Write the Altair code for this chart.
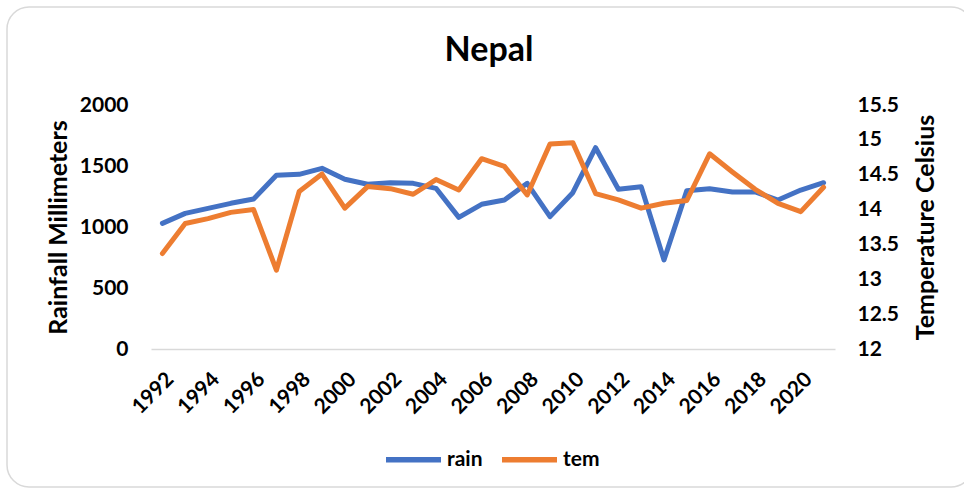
import altair as alt
import pandas as pd

# Annual rainfall (mm) and mean temperature (°C) for Nepal
years = list(range(1992, 2022))
rain = [1030, 1112, 1153, 1194, 1229, 1424, 1432, 1481, 1391, 1350,
        1363, 1358, 1317, 1079, 1186, 1221, 1358, 1085, 1281, 1650,
        1309, 1330, 730, 1298, 1314, 1287, 1287, 1221, 1303, 1363]
tem = [13.37, 13.80, 13.87, 13.96, 14.00, 13.13, 14.26, 14.51, 14.02, 14.33,
       14.30, 14.22, 14.43, 14.28, 14.73, 14.62, 14.21, 14.94, 14.96, 14.23,
       14.14, 14.02, 14.09, 14.13, 14.80, 14.54, 14.29, 14.09, 13.97, 14.32]
series_names = ["rain", "tem"]
series_colors = ["#4472C4", "#ED7D31"]
rain_ticks = [0, 500, 1000, 1500, 2000]
tem_ticks = [12, 12.5, 13, 13.5, 14, 14.5, 15, 15.5]
label_years = [y for y in years if y % 2 == 0]
chart_title = "Nepal"

df = pd.DataFrame(
    {"year": years * 2,
     "series": ["rain"] * len(years) + ["tem"] * len(years),
     "value": rain + tem}
)

FONT = "Lato"

color = alt.Color(
    "series:N",
    scale=alt.Scale(domain=series_names, range=series_colors),
    legend=alt.Legend(
        title=None, orient="none", direction="horizontal",
        legendX=232, legendY=324,
        symbolType="stroke", symbolSize=3025, symbolStrokeWidth=5.5,
        labelFont=FONT, labelFontSize=21, labelFontWeight="bold",
        labelColor="#000000", labelOffset=3, columnPadding=8,
    ),
)

x_enc = alt.X(
    "year:O",
    scale=alt.Scale(type="point", padding=0.5),
    axis=alt.Axis(
        title=None, values=label_years, labelAngle=-45,
        labelAlign="right", labelBaseline="top", labelPadding=19,
        labelFont=FONT, labelFontSize=21, labelFontWeight="bold",
        labelColor="#000000", ticks=False, domainColor="#D9D9D9",
        domainWidth=1.5, grid=False,
    ),
)

base = alt.Chart(df)

rain_line = base.transform_filter(alt.datum.series == "rain").mark_line(
    strokeWidth=5, strokeCap="round", strokeJoin="round"
).encode(
    x=x_enc,
    y=alt.Y(
        "value:Q",
        scale=alt.Scale(domain=[0, 2000], nice=False),
        axis=alt.Axis(
            orient="left", title="Rainfall Millimeters", values=rain_ticks,
            format="d", grid=False, ticks=False, domain=False,
            labelPadding=23, labelFont=FONT, labelFontSize=21,
            labelFontWeight="bold", labelColor="#000000",
            titleFont=FONT, titleFontSize=25, titleFontWeight="bold",
            titleColor="#000000", titleAngle=270, titleX=-93, titleY=122,
            titleAlign="center", titleBaseline="middle",
        ),
    ),
    color=color,
)

tem_line = base.transform_filter(alt.datum.series == "tem").mark_line(
    strokeWidth=5, strokeCap="round", strokeJoin="round"
).encode(
    x=x_enc,
    y=alt.Y(
        "value:Q",
        scale=alt.Scale(domain=[12, 15.5], nice=False, zero=False),
        axis=alt.Axis(
            orient="right", title="Temperature Celsius", values=tem_ticks,
            format=".3~g", grid=False, ticks=False, domain=False,
            labelPadding=22, labelFont=FONT, labelFontSize=21,
            labelFontWeight="bold", labelColor="#000000",
            titleFont=FONT, titleFontSize=25, titleFontWeight="bold",
            titleColor="#000000", titleAngle=270, titleX=90, titleY=122,
            titleAlign="center", titleBaseline="middle",
        ),
    ),
    color=color,
)

# Rounded frame around the whole chart area
frame = alt.Chart(alt.Data(values=[{"k": 1}])).mark_rect(
    fill=None, fillOpacity=0, stroke="#D9D9D9", strokeWidth=1.5, cornerRadius=22
).encode(
    x=alt.value(-144), x2=alt.value(822),
    y=alt.value(-98), y2=alt.value(382),
)

# Chart heading, centred over the plot
heading = alt.Chart(alt.Data(values=[{"t": chart_title}])).mark_text(
    font=FONT, fontSize=34, fontWeight="bold", color="#000000",
    align="center", baseline="alphabetic",
).encode(
    text="t:N", x=alt.value(338), y=alt.value(-44),
)

chart = alt.layer(frame, heading, rain_line, tem_line).resolve_scale(
    y="independent"
).properties(
    width=684, height=244,
    background="white",
    autosize=alt.AutoSizeParams(type="none"),
    padding={"left": 151, "top": 105, "right": 129, "bottom": 144},
).configure_view(strokeWidth=0, stroke="transparent")

chart.save("out.html", embed_options={"renderer": "svg", "actions": False})
